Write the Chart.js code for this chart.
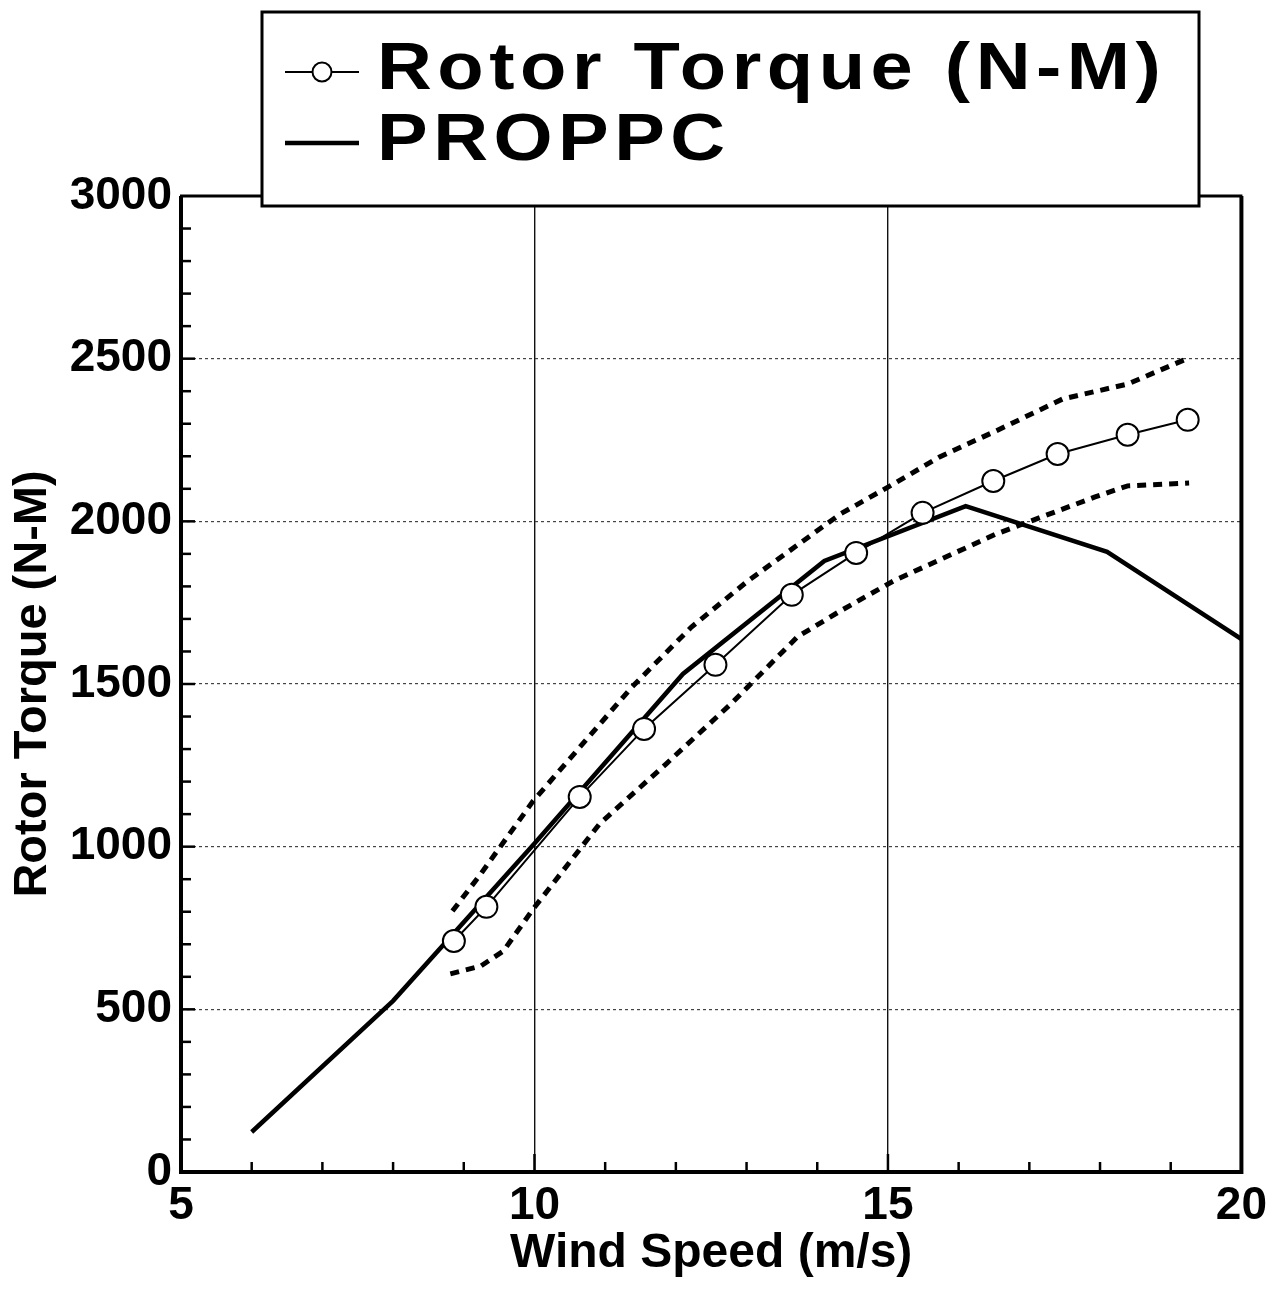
<!DOCTYPE html>
<html>
<head>
<meta charset="utf-8">
<script src="https://cdn.jsdelivr.net/npm/chart.js@4.4.1/dist/chart.umd.min.js"></script>
<style>
  html, body { margin: 0; padding: 0; background: #fff; }
  #wrap { width: 1274px; height: 1295px; }
</style>
</head>
<body>
<div id="wrap"><canvas id="torque_chart" width="1274" height="1295"></canvas></div>
<script>
Chart.defaults.font.family = "'Liberation Sans', Arial, sans-serif";
Chart.defaults.color = '#000';

// measured rotor torque (circles)
const torqueSpeed = [8.86, 9.32, 10.64, 11.55, 12.56, 13.64, 14.55, 15.49, 16.49, 17.40, 18.39, 19.24];
const torqueValue = [710, 815, 1153, 1362, 1559, 1774, 1903, 2026, 2124, 2207, 2266, 2312];

// PROPPC prediction
const proppcSpeed = [6, 8, 10, 12.1, 14.1, 16.1, 18.1, 20];
const proppcValue = [123, 526, 1010, 1531, 1878, 2047, 1906, 1638];

// scatter band around the measurements (dotted)
const upperSpeed = [8.84, 9.24, 9.98, 11.38, 12.22, 13.02, 14.33, 15.08, 15.73, 16.53, 17.47, 18.39, 19.22];
const upperValue = [802, 916, 1140, 1491, 1675, 1817, 2023, 2115, 2198, 2278, 2376, 2422, 2499];
const lowerSpeed = [8.81, 9.24, 9.56, 9.98, 10.4, 10.92, 11.86, 12.78, 13.72, 14.33, 15.08, 16.53, 17.93, 18.39, 19.26];
const lowerValue = [609, 633, 679, 808, 925, 1070, 1254, 1439, 1645, 1725, 1817, 1961, 2075, 2109, 2118];

const xTicks = [5, 10, 15, 20];
const yTicks = [0, 500, 1000, 1500, 2000, 2500, 3000];

const toPoints = (xs, ys) => xs.map((x, i) => ({ x: x, y: ys[i] }));

const LABEL_FONT = { size: 46, weight: 'bold' };

// frame on all four sides + inward tick marks
const framePlugin = {
  id: 'frame',
  afterDraw(chart) {
    const { ctx, chartArea: a, scales: { x, y } } = chart;
    ctx.save();
    ctx.strokeStyle = '#000';
    ctx.lineCap = 'butt';
    // minor / major ticks on the x axis
    ctx.lineWidth = 2.5;
    for (let v = 6; v < 20; v++) {
      const px = x.getPixelForValue(v);
      const len = v % 5 === 0 ? 18 : 10;
      ctx.beginPath();
      ctx.moveTo(px, a.bottom);
      ctx.lineTo(px, a.bottom - len);
      ctx.stroke();
    }
    // minor / major ticks on the y axis
    for (let v = 100; v < 3000; v += 100) {
      const py = y.getPixelForValue(v);
      const len = v % 500 === 0 ? 14 : 10;
      ctx.beginPath();
      ctx.moveTo(a.left, py);
      ctx.lineTo(a.left + len, py);
      ctx.stroke();
    }
    // box
    ctx.lineWidth = 4;
    ctx.beginPath();
    ctx.moveTo(a.left, a.top);
    ctx.lineTo(a.left, a.bottom);
    ctx.lineTo(a.right, a.bottom);
    ctx.lineTo(a.right, a.top);
    ctx.stroke();
    ctx.lineWidth = 3;
    ctx.beginPath();
    ctx.moveTo(a.left - 1, a.top);
    ctx.lineTo(a.right + 1, a.top);
    ctx.stroke();
    ctx.restore();
  }
};

// boxed legend sitting over the top edge of the plot
const boxLegendPlugin = {
  id: 'boxLegend',
  afterDraw(chart) {
    const ctx = chart.ctx;
    const items = chart.data.datasets.filter(d => d.label);
    const box = { left: 262, top: 12, right: 1199, bottom: 206 };
    ctx.save();
    ctx.fillStyle = '#fff';
    ctx.fillRect(box.left, box.top, box.right - box.left, box.bottom - box.top);
    ctx.strokeStyle = '#000';
    ctx.lineWidth = 3;
    ctx.strokeRect(box.left, box.top, box.right - box.left, box.bottom - box.top);

    const rows = [72, 143];
    items.forEach((ds, i) => {
      const cy = rows[i];
      ctx.strokeStyle = '#000';
      ctx.lineWidth = ds.borderWidth;
      ctx.setLineDash([]);
      ctx.beginPath();
      ctx.moveTo(285, cy);
      ctx.lineTo(359, cy);
      ctx.stroke();
      if (ds.pointRadius) {
        ctx.beginPath();
        ctx.arc(322, cy, 9.5, 0, Math.PI * 2);
        ctx.fillStyle = '#fff';
        ctx.fill();
        ctx.lineWidth = 2;
        ctx.stroke();
      }
      // wide lettering: stretch the glyphs a little and open up the spacing
      ctx.save();
      ctx.translate(377, cy + 17);
      ctx.scale(1.15, 1);
      ctx.fillStyle = '#000';
      ctx.font = "bold 66px 'Liberation Sans', Arial, sans-serif";
      if ('letterSpacing' in ctx) ctx.letterSpacing = '4.8px';
      ctx.textBaseline = 'alphabetic';
      ctx.textAlign = 'left';
      ctx.fillText(ds.label, 0, 0);
      ctx.restore();
    });
    ctx.restore();
  }
};

const data_torque = {
  datasets: [
    {
      label: 'Rotor Torque (N-M)',
      data: toPoints(torqueSpeed, torqueValue),
      borderColor: '#000',
      borderWidth: 2,
      pointRadius: 11,
      pointBackgroundColor: '#fff',
      pointBorderColor: '#000',
      pointBorderWidth: 2,
    },
    {
      label: 'PROPPC',
      data: toPoints(proppcSpeed, proppcValue),
      borderColor: '#000',
      borderWidth: 4.5,
      pointRadius: 0,
    },
    {
      data: toPoints(upperSpeed, upperValue),
      borderColor: '#000',
      borderWidth: 5,
      borderDash: [9, 7],
      pointRadius: 0,
    },
    {
      data: toPoints(lowerSpeed, lowerValue),
      borderColor: '#000',
      borderWidth: 5,
      borderDash: [9, 7],
      pointRadius: 0,
    },
  ],
};

const options_torque = {
  responsive: false,
  animation: false,
  showLine: true,
  layout: { padding: { top: 196, right: 26, left: 0, bottom: 0 } },
  elements: { line: { tension: 0, fill: false } },
  scales: {
    x: {
      type: 'linear',
      min: 5,
      max: 20,
      afterFit(scale) { scale.height = 123; },
      afterBuildTicks(scale) { scale.ticks = xTicks.map(v => ({ value: v })); },
      ticks: { font: LABEL_FONT, padding: 7, maxRotation: 0, callback: v => String(v) },
      grid: {
        drawTicks: false,
        lineWidth: 1.4,
        color: c => (c.tick && (c.tick.value === 10 || c.tick.value === 15)) ? '#111' : 'rgba(0,0,0,0)',
      },
      border: { display: false },
      title: {
        display: true,
        text: 'Wind Speed (m/s)',
        font: { size: 48, weight: 'bold' },
        padding: { top: 4, bottom: 12 },
      },
    },
    y: {
      type: 'linear',
      min: 0,
      max: 3000,
      afterFit(scale) { scale.width = 181; },
      afterBuildTicks(scale) { scale.ticks = yTicks.map(v => ({ value: v })); },
      ticks: { font: LABEL_FONT, padding: 9, callback: v => String(v) },
      grid: {
        drawTicks: false,
        lineWidth: 1.2,
        color: c => (c.tick && c.tick.value > 0 && c.tick.value < 3000) ? '#444' : 'rgba(0,0,0,0)',
      },
      border: { display: false, dash: [3, 3] },
      title: {
        display: true,
        text: 'Rotor Torque (N-M)',
        font: { size: 47, weight: 'bold' },
        padding: { top: 5, bottom: 4 },
      },
    },
  },
  plugins: {
    legend: { display: false },
    tooltip: { enabled: false },
  },
};

const ctx_torque = document.getElementById('torque_chart');
const chart_torque = new Chart(ctx_torque, {
  type: 'scatter',
  data: data_torque,
  options: options_torque,
  plugins: [framePlugin, boxLegendPlugin],
});
</script>
</body>
</html>
